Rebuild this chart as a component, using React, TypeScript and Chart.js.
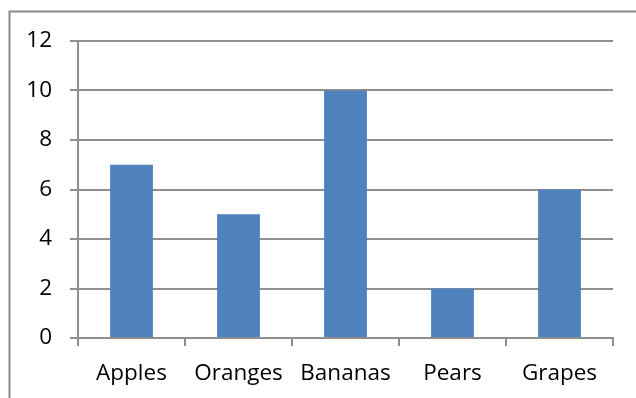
import React, { useEffect, useRef } from "react";
import { Chart, registerables } from "chart.js";

Chart.register(...registerables);

const categories = ["Apples", "Oranges", "Bananas", "Pears", "Grapes"];
const values = [7, 5, 10, 2, 6];
const yTicks = [0, 2, 4, 6, 8, 10, 12];

const framePlugin = {
  id: "frame",
  beforeDraw(chart: any) {
    const ctx = chart.ctx;
    ctx.save();
    ctx.strokeStyle = "#8a8a8a";
    ctx.lineWidth = 2;
    ctx.beginPath();
    ctx.moveTo(9.5, 420);
    ctx.lineTo(9.5, 11.5);
    ctx.lineTo(660, 11.5);
    ctx.stroke();
    ctx.restore();
  },
};

export default function App() {
  const ref = useRef<HTMLCanvasElement | null>(null);
  useEffect(() => {
    if (!ref.current) return;
    const font = { family: "'Open Sans', sans-serif", size: 22.5 };
    const chart = new Chart(ref.current, {
      type: "bar",
      data: {
        labels: categories,
        datasets: [
          {
            data: values,
            backgroundColor: "#4F81BD",
            borderWidth: 0,
            barPercentage: 0.4,
            categoryPercentage: 1,
          },
        ],
      },
      options: {
        animation: false,
        responsive: false,
        maintainAspectRatio: false,
        layout: { padding: { top: 41, right: 23, left: 0, bottom: 0 } },
        plugins: { legend: { display: false }, tooltip: { enabled: false } },
        scales: {
          x: {
            offset: true,
            grid: {
              display: true,
              offset: true,
              drawOnChartArea: false,
              drawTicks: true,
              tickLength: 8,
              color: "#8f8f8f",
              lineWidth: 2,
            },
            border: { display: true, color: "#8f8f8f", width: 2 },
            ticks: { color: "#000", font, padding: 14, maxRotation: 0, autoSkip: false },
            afterFit(scale: any) {
              scale.height = 60;
            },
          },
          y: {
            min: 0,
            max: 12,
            afterBuildTicks(scale: any) {
              scale.ticks = yTicks.map((v) => ({ value: v }));
            },
            grid: {
              color: "#8f8f8f",
              lineWidth: 2,
              tickLength: 8,
              drawTicks: true,
            },
            border: { display: true, color: "#8f8f8f", width: 2 },
            ticks: { color: "#000", font, padding: 18 },
            afterFit(scale: any) {
              scale.width = 78;
            },
          },
        },
      },
      plugins: [framePlugin],
    });
    return () => chart.destroy();
  }, []);
  return (
    <div style={{ position: "fixed", left: 0, top: 0, width: 636, height: 398, background: "#fff" }}>
      <canvas ref={ref} width={636} height={398} style={{ width: 636, height: 398, display: "block" }} />
    </div>
  );
}
